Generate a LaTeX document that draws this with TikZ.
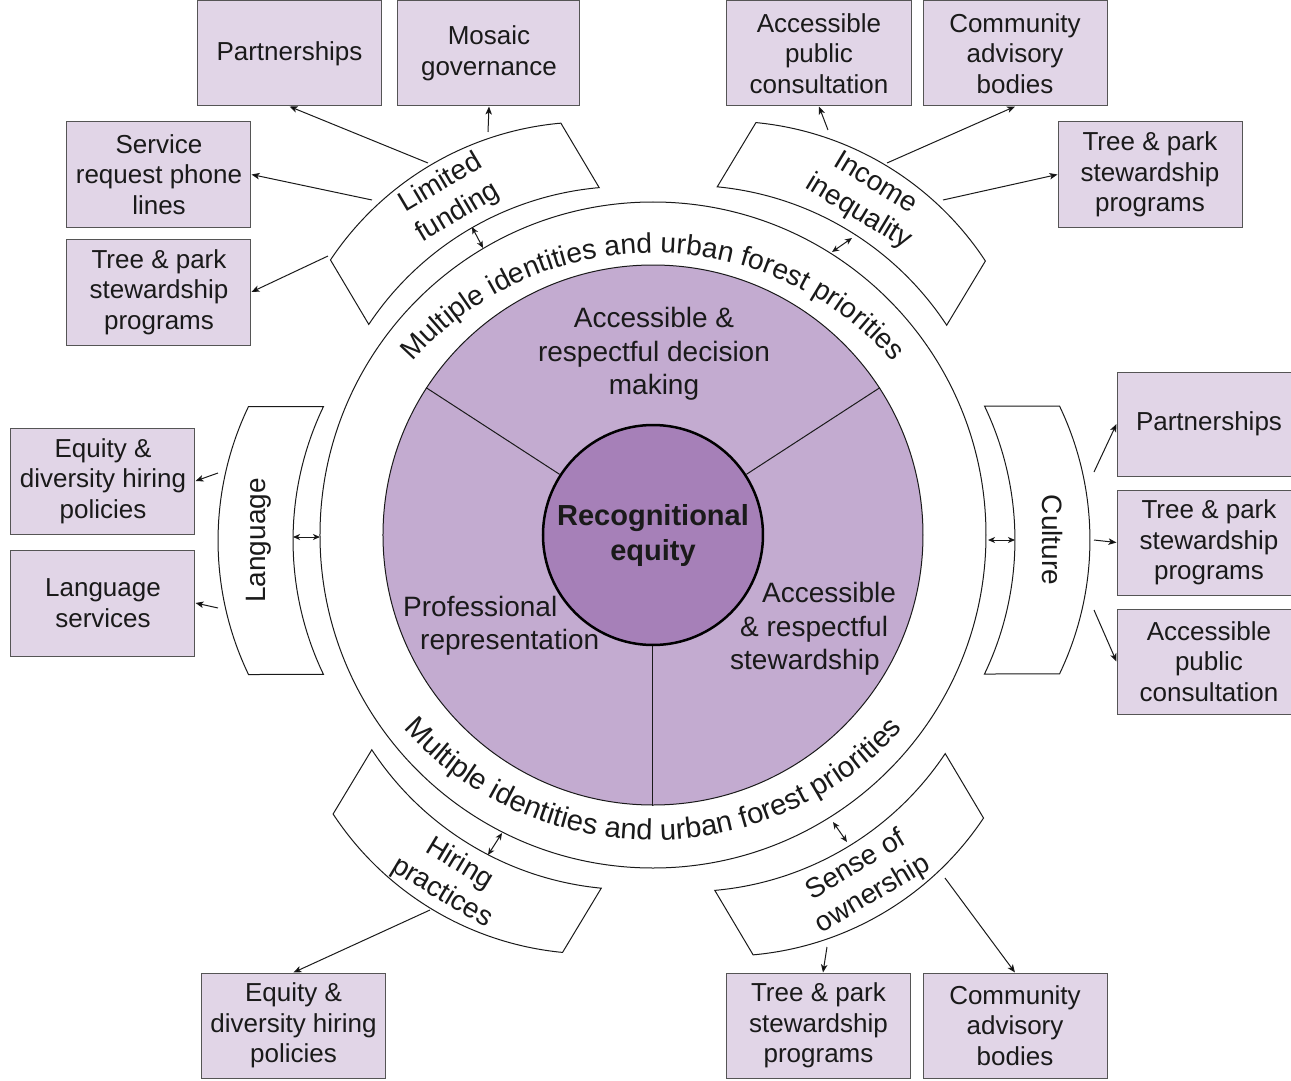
\documentclass[tikz,border=0pt]{standalone}
\usepackage{fontspec}
\setmainfont{Liberation Sans}
\usetikzlibrary{arrows.meta,decorations.text}
\definecolor{boxfill}{HTML}{E1D5E7}
\definecolor{boxline}{HTML}{555555}
\definecolor{bigfill}{HTML}{C3ABD0}
\definecolor{cenfill}{HTML}{A680B8}
\definecolor{ink}{HTML}{1A1A1A}
\newcommand\boxfont{\fontsize{26}{30.5}\selectfont}
\newcommand\midfont{\fontsize{28}{33.5}\selectfont}
\newcommand\ringfont{\fontsize{28.2}{34}\selectfont}
\newcommand\ringfontb{\fontsize{29.2}{34}\selectfont}
\tikzset{
  rbox/.style={draw=boxline, fill=boxfill, line width=1pt, minimum width=184pt, minimum height=105pt, inner sep=0pt, align=center, font=\boxfont, text=ink},
  arcline/.style={draw=ink, fill=white, line width=1pt},
  lbl/.style={align=center, font=\midfont, text=ink, inner sep=0pt},
  arr/.style={draw=ink, line width=1pt, -{Stealth[length=8pt,width=6.5pt,inset=2pt]}},
  darr/.style={draw=ink, line width=1pt, {Stealth[length=7pt,width=6pt,inset=2pt]}-{Stealth[length=7pt,width=6pt,inset=2pt]}},
}
\newcommand\arcbox[7]{%
  \begin{scope}[shift={(#1,#2)}, rotate=#3]
    \draw[arcline] (-30.5,-134) arc[start angle=-25.61, end angle=25.61, radius=310]
      -- (44.5,134) arc[start angle=25.61, end angle=-25.61, radius=310] -- cycle;
    \node[lbl, rotate=#5] (#4) at (#7,0) {#6};
  \end{scope}}
\begin{document}
\begin{tikzpicture}[x=1pt,y=1pt]
\fill[white] (-653,-545) rectangle (638,535);
\useasboundingbox (-653,-545) rectangle (638,535);
% ---------- image-coordinate scope: circles ----------
\begin{scope}[shift={(-653pt,535pt)}, y=-1pt]
  \node[circle, draw=ink, fill=white, line width=1pt, minimum size=666pt, inner sep=0pt] (ring) at (653,535) {};
  \node[circle, draw=ink, fill=bigfill, line width=1pt, minimum size=540pt, inner sep=0pt] (bigc) at (653,535) {};
  \node[circle, draw=black, fill=cenfill, line width=2.5pt, minimum size=220pt, inner sep=0pt, align=center, text=ink, font=\bfseries\fontsize{29}{35}\selectfont] (re) at (653,535) {Recognitional\\equity};
  \draw[ink, line width=1pt] (re.147) -- (bigc.147);
  \draw[ink, line width=1pt] (re.33) -- (bigc.33);
  \draw[ink, line width=1pt] (re.270) -- (bigc.270);
  \node[lbl] (adm) at (654,354) {Accessible \&\\respectful decision\\making};
  \node[lbl, align=left, anchor=west] (pr) at (403,626) {Professional\\\hspace*{17pt}representation};
  \node[lbl, align=left, anchor=west] (ars) at (730,629) {\hspace*{32pt}Accessible\\\hspace*{10pt}\& respectful\\stewardship};
\end{scope}
% ---------- ring text (origin at centre, y up) ----------
\path[decorate, decoration={text along path, text align=center, text color=ink,
  text={|\ringfont|Multiple identities and urban forest priorities}}]
  (0,-37) ++(155:319) arc[start angle=155, end angle=25, radius=319];
\path[decorate, decoration={text along path, text align=center, text color=ink,
  text={|\ringfontb|Multiple identities and urban forest priorities}}]
  (0,31) ++(205:336) arc[start angle=205, end angle=335, radius=336];
% ---------- curved boxes ----------
\arcbox{-184.6}{305.2}{120.7}{lf}{30.7}{Limited\\funding}{37}
\arcbox{194.7}{305.1}{58.9}{ii}{-31.1}{Income\\inequality}{37}
\arcbox{-360}{-5.5}{180}{lang}{90}{Language}{34}
\arcbox{362}{-5}{0}{cult}{-90}{Culture}{38}
\arcbox{-182.2}{-310.1}{238.9}{hire}{-31.1}{Hiring\\practices}{39}
\arcbox{192.6}{-313.2}{300.7}{soo}{30.7}{Sense of\\ownership}{37}
% ---------- rectangles and arrows (image coordinates) ----------
\begin{scope}[shift={(-653pt,535pt)}, y=-1pt]
  \node[rbox] (p1) at (289.5,53.5) {Partnerships};
  \node[rbox, minimum width=182pt] (mg) at (489,53.5) {Mosaic\\governance};
  \node[rbox] (sr) at (159,174.5) {Service\\request phone\\lines};
  \node[rbox, minimum height=106pt] (tl) at (159,292) {Tree \& park\\stewardship\\programs};
  \node[rbox] (ap) at (819,53.5) {Accessible\\public\\consultation};
  \node[rbox] (cab) at (1015,53.5) {Community\\advisory\\bodies};
  \node[rbox] (tr) at (1150,174.5) {Tree \& park\\stewardship\\programs};
  \node[rbox, minimum height=106pt] (eq) at (103,481) {Equity \&\\diversity hiring\\policies};
  \node[rbox, minimum height=106pt] (ls) at (103,603) {Language\\services};
  \node[rbox, minimum height=104pt] (rp) at (1209,424) {Partnerships};
  \node[rbox] (rt) at (1209,542.5) {Tree \& park\\stewardship\\programs};
  \node[rbox] (ra) at (1209,661.5) {Accessible\\public\\consultation};
  \node[rbox] (be) at (293.5,1025.5) {Equity \&\\diversity hiring\\policies};
  \node[rbox] (bt) at (818.5,1025.5) {Tree \& park\\stewardship\\programs};
  \node[rbox] (bc) at (1015,1025.5) {Community\\advisory\\bodies};
  % arrow start points on the curved boxes
  \coordinate (lfA) at (428,163);
  \coordinate (lfB) at (488,132);
  \coordinate (lfC) at (372,200);
  \coordinate (lfD) at (328,256);
  \coordinate (iiA) at (828,130);
  \coordinate (iiB) at (887,163);
  \coordinate (iiC) at (943,200);
  \coordinate (laA) at (218,473);
  \coordinate (laB) at (218,608);
  \coordinate (cuA) at (1094,472);
  \coordinate (cuB) at (1094,540);
  \coordinate (cuC) at (1094,610);
  \coordinate (hiA) at (430,910);
  \coordinate (soA) at (827,947);
  \coordinate (soB) at (945,878);
  \draw[arr] (lfA) -- (p1.south);
  \draw[arr] (lfB) -- (mg.south);
  \draw[arr] (lfC) -- (sr.east);
  \draw[arr] (lfD) -- (tl.east);
  \draw[arr] (iiA) -- (ap.south);
  \draw[arr] (iiB) -- (cab.south);
  \draw[arr] (iiC) -- (tr.west);
  \draw[arr] (laA) -- (eq.east);
  \draw[arr] (laB) -- (ls.east);
  \draw[arr] (cuA) -- (rp.west);
  \draw[arr] (cuB) -- (rt.west);
  \draw[arr] (cuC) -- (ra.west);
  \draw[arr] (hiA) -- (be.north);
  \draw[arr] (soA) -- ([xshift=4.5pt]bt.north);
  \draw[arr] (soB) -- (bc.north);
  % double arrows between curved boxes and ring
  \coordinate (dlf1) at (472,227);  \coordinate (dlf2) at (483,248);
  \coordinate (dii1) at (852,238);  \coordinate (dii2) at (832,252);
  \coordinate (dla1) at (293,537);  \coordinate (dla2) at (320,537);
  \coordinate (dcu1) at (988,540);  \coordinate (dcu2) at (1015,540);
  \coordinate (dhi1) at (502,833);  \coordinate (dhi2) at (488,855);
  \coordinate (dso1) at (833,822);  \coordinate (dso2) at (847,842);
  \draw[darr] (dlf1) -- (dlf2);
  \draw[darr] (dii1) -- (dii2);
  \draw[darr] (dla1) -- (dla2);
  \draw[darr] (dcu1) -- (dcu2);
  \draw[darr] (dhi1) -- (dhi2);
  \draw[darr] (dso1) -- (dso2);
\end{scope}
\end{tikzpicture}
\end{document}
